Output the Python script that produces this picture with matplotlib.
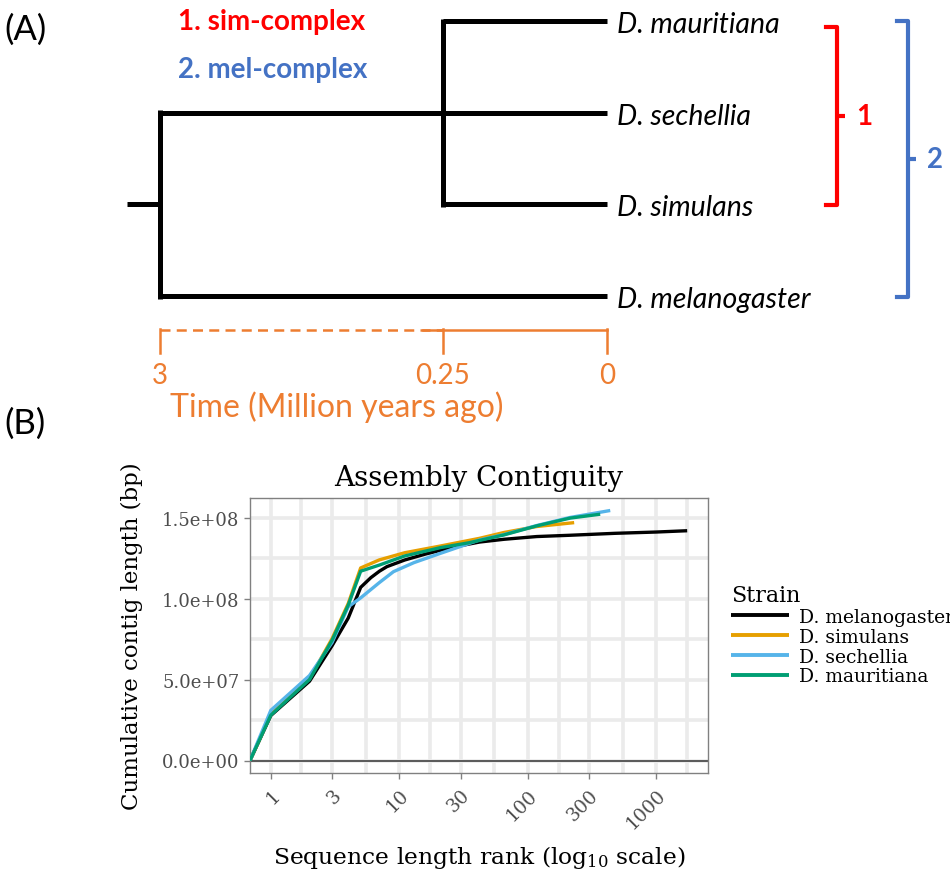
import numpy as np
import matplotlib
matplotlib.use("Agg")
import matplotlib.pyplot as plt

# ------------------------- Panel A data -------------------------
species = ["D. mauritiana", "D. sechellia", "D. simulans", "D. melanogaster"]
branch_start_mya = [0.25, 3, 0.25, 3]      # node each leaf branch hangs from
node_mya = [0.25, 3]
node_rows = [(0, 2), (1, 3)]
root_row = 2
root_stub_mya = 3.32
time_ticks = [3, 0.25, 0]
time_tick_labels = ["3", "0.25", "0"]
clade_titles = ["1. sim-complex", "2. mel-complex"]
clade_rows = [(0, 2), (0, 3)]
clade_labels = ["1", "2"]

# ------------------------- Panel B data -------------------------
strains = ["D. melanogaster", "D. simulans", "D. sechellia", "D. mauritiana"]
mel_rank = [1, 2, 3, 4, 5, 6, 7, 8, 11, 16, 26, 42, 65, 117, 213, 477, 1000, 1734]
mel_mb = [27.8, 49, 71, 88, 107, 113, 117, 119.8, 123.9, 127.6, 131.8, 135.0, 136.7, 138.4, 139.2, 140.4, 141.2, 142.0]
sim_rank = [1, 2, 3, 4, 5, 7, 11, 21, 42, 65, 117, 229]
sim_mb = [28.5, 50.5, 75.4, 97, 119, 124, 128.4, 132.6, 137.3, 140.9, 144.6, 147.0]
sec_rank = [1, 2, 3, 4, 5, 7, 9, 13, 21, 42, 65, 117, 213, 437]
sec_mb = [31, 52.5, 73, 95, 100.5, 110, 116.7, 122.3, 128.1, 136.3, 139.6, 145.2, 150.2, 154.5]
mau_rank = [1, 2, 3, 4, 5, 7, 11, 21, 35, 65, 117, 213, 365]
mau_mb = [28, 50, 74.4, 96, 117, 120.8, 126.4, 131.6, 134.6, 139.4, 145.0, 149.8, 152.2]
x_ticks = [1, 3, 10, 30, 100, 300, 1000]
x_tick_labels = ["1", "3", "10", "30", "100", "300", "1000"]
y_ticks = [0, 5e7, 1e8, 1.5e8]
y_tick_labels = ["0.0e+00", "5.0e+07", "1.0e+08", "1.5e+08"]
colors = ["#000000", "#E69F00", "#56B4E9", "#009E73"]

W, H = 950, 878
fig = plt.figure(figsize=(W / 100, H / 100), dpi=100)

# ------------------------- Panel A -------------------------
SANS = ["Lato", "DejaVu Sans"]
axA = fig.add_axes([0, 0, 1, 1])
axA.set_xlim(0, W)
axA.set_ylim(H, 0)
axA.axis("off")

def tpx(t):
    t = np.asarray(t, dtype=float)
    base = np.interp(t, [0, 0.25, 3], [607, 443, 160])
    return np.where(t > 3, 160 - (t - 3) * (283 / 2.75), base)

def rpx(r):
    return 22 + np.asarray(r, dtype=float) * 91.7

tree_kw = dict(color="black", lw=3.6, solid_capstyle="butt", zorder=2)
for i, sp in enumerate(species):
    axA.plot([tpx(branch_start_mya[i]), tpx(0)], [rpx(i), rpx(i)], **tree_kw)
    axA.text(tpx(0) + 10, rpx(i) + 3, sp, fontsize=20.5, style="italic",
             family=SANS, va="center", ha="left")
for t, (r0, r1) in zip(node_mya, node_rows):
    axA.plot([tpx(t), tpx(t)], [rpx(r0) - 2.5, rpx(r1) + 2.5], **tree_kw)
axA.plot([tpx(root_stub_mya), tpx(3)], [rpx(root_row), rpx(root_row)], **tree_kw)

axA.text(4, 30, "(A)", fontsize=25, family=SANS, va="center", ha="left")
axA.text(4, 424, "(B)", fontsize=25, family=SANS, va="center", ha="left")
axA.text(178, 22, clade_titles[0], fontsize=20, weight="bold", color="#FF0000",
         family=SANS, va="center", ha="left")
axA.text(178, 70, clade_titles[1], fontsize=20, weight="bold", color="#4472C4",
         family=SANS, va="center", ha="left")

# brackets
for (r0, r1), xb, col, lab, off in zip(clade_rows, [837, 908], ["#FF0000", "#4472C4"],
                                       clade_labels, [6, 0]):
    y0, y1 = rpx(r0) + off, rpx(r1) + 1
    axA.plot([xb - 11, xb, xb, xb - 11], [y0, y0, y1, y1], color=col, lw=3,
             solid_joinstyle="round", zorder=2)
    ym = (y0 + y1) / 2
    axA.plot([xb, xb + 8], [ym, ym], color=col, lw=3, solid_capstyle="butt")
    axA.text(xb + 19, ym, lab, color=col, fontsize=20, weight="bold",
             family=SANS, va="center", ha="left")

# time axis
OR = "#ED7D31"
ya = 331
axA.plot([tpx(3), tpx(0.25)], [ya, ya], color=OR, lw=1.8, ls=(0, (4, 2.5)))
axA.plot([tpx(0.25) - 20, tpx(0)], [ya, ya], color=OR, lw=1.8)
for t, lab in zip(time_ticks, time_tick_labels):
    axA.plot([tpx(t), tpx(t)], [ya - 1, ya + 23], color=OR, lw=1.8)
    axA.text(tpx(t), 376, lab, color=OR, fontsize=20, family=SANS,
             ha="center", va="center")
axA.text(337, 407, "Time (Million years ago)", color=OR, fontsize=23,
         family=SANS, ha="center", va="center")

# ------------------------- Panel B -------------------------
SERIF = ["DejaVu Serif"]
L, R, T, B = 250, 708, 499, 774
ax = fig.add_axes([L / W, 1 - B / H, (R - L) / W, (B - T) / H])

all_rank = mel_rank + sim_rank + sec_rank + mau_rank
all_len = np.array(mel_mb + sim_mb + sec_mb + mau_mb) * 1e6
lmax = np.log10(max(all_rank))
xlo, xhi = 10 ** (-0.05 * lmax), 10 ** (1.05 * lmax)
ymax = all_len.max()
ax.set_xscale("log")
ax.set_xlim(xlo, xhi)
ax.set_ylim(-0.05 * ymax, 1.05 * ymax)

series = [(mel_rank, mel_mb), (sim_rank, sim_mb), (sec_rank, sec_mb), (mau_rank, mau_mb)]
for (rk, mb), name, col in zip(series, strains, colors):
    xs = np.concatenate([[xlo], rk])          # rank 0 drawn at panel edge
    ys = np.concatenate([[0], np.array(mb) * 1e6])
    ax.plot(xs, ys, color=col, lw=2.4, label=name, zorder=3,
            solid_joinstyle="round", solid_capstyle="butt")

ax.axhline(0, color="#4D4D4D", lw=1.3, zorder=2)

lt = np.log10(x_ticks)
ext = np.concatenate([[lt[0] - (lt[1] - lt[0])], lt, [lt[-1] + (lt[1] - lt[0])]])
minor_x = 10 ** ((ext[:-1] + ext[1:]) / 2)
ax.set_xticks(x_ticks)
ax.set_xticklabels(x_tick_labels)
ax.set_xticks(minor_x, minor=True)
ax.set_yticks(y_ticks)
ax.set_yticklabels(y_tick_labels)
ax.set_yticks([(a + b) / 2 for a, b in zip(y_ticks[:-1], y_ticks[1:])], minor=True)
ax.set_xlim(xlo, xhi)

ax.grid(which="both", color="#EBEBEB", lw=2.6)
ax.set_axisbelow(True)
for s in ax.spines.values():
    s.set_color("#808080")
    s.set_linewidth(1.0)
ax.tick_params(which="major", length=4, color="#808080", width=1,
               labelcolor="#4D4D4D", labelsize=13)
ax.tick_params(which="minor", length=0)
ax.tick_params(axis="x", pad=5, labelsize=13.5)
for lab in ax.get_xticklabels():
    lab.set_rotation(45)
    lab.set_ha("right")
    lab.set_va("top")
    lab.set_rotation_mode("anchor")
for lab in ax.get_xticklabels() + ax.get_yticklabels():
    lab.set_family(SERIF)

ax.set_title("Assembly Contiguity", fontsize=20, family=SERIF, pad=9)
ax.set_ylabel("Cumulative contig length (bp)", fontsize=16.5, family=SERIF)
ax.set_xlabel(r"Sequence length rank ($\mathregular{log_{10}}$ scale)", fontsize=16.8, family=SERIF)
ax.yaxis.set_label_coords(-0.234, 0.5)
ax.xaxis.set_label_coords(0.5, -0.255)

leg = ax.legend(title="Strain", loc="upper left", bbox_to_anchor=(731 / W, 1 - 585 / H),
                bbox_transform=fig.transFigure, frameon=False,
                title_fontsize=16, handlelength=3.1, handletextpad=0.55,
                labelspacing=0.1, borderpad=0, borderaxespad=0, alignment="left",
                prop={"family": SERIF, "size": 13.5})
leg.get_title().set_family(SERIF)
for h in leg.get_lines():
    h.set_linewidth(2.8)

fig.savefig("out.png", dpi=100)
